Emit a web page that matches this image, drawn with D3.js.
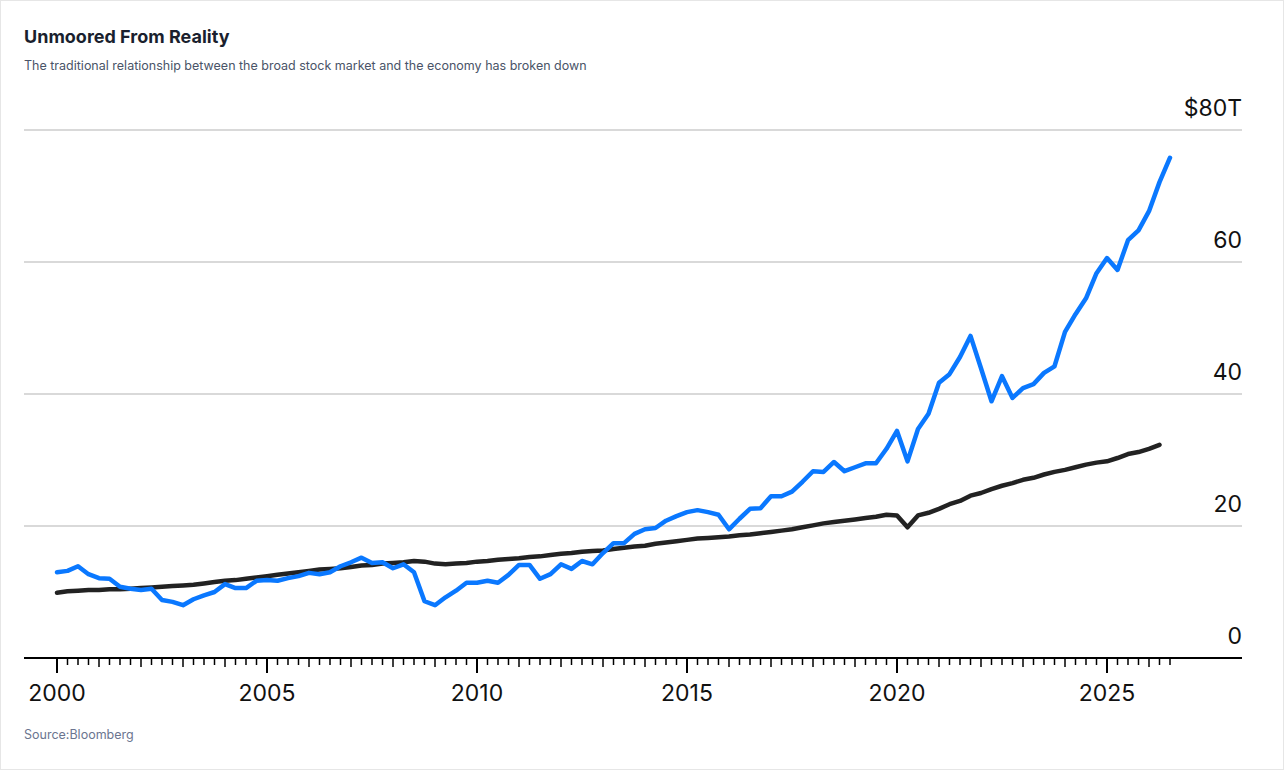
<!DOCTYPE html>
<html>
<head>
<meta charset="utf-8">
<script src="https://cdn.jsdelivr.net/npm/d3@7"></script>
<style>
  body { margin: 0; background: #fff; font-family: "Inter", "Helvetica Neue", Arial, sans-serif; }
  .frame { position: absolute; left: 0; top: 0; width: 1282px; height: 768px; border: 1px solid #e6e6e6; }
</style>
</head>
<body>
<div class="frame"></div>
<svg width="1284" height="770" style="position:absolute;left:0;top:0"></svg>
<script>
// quarterly, starting Q1 2000
const marketCap = [
  13.0, 13.2, 13.9, 12.7, 12.1, 12.0, 10.8, 10.5, 10.3, 10.5, 8.8, 8.5,
  8.0, 8.9, 9.5, 10.0, 11.2, 10.6, 10.6, 11.7, 11.8, 11.7, 12.1, 12.4,
  12.9, 12.7, 13.0, 13.9, 14.5, 15.2, 14.4, 14.5, 13.6, 14.2, 13.0, 8.6,
  8.0, 9.2, 10.2, 11.4, 11.4, 11.7, 11.4, 12.6, 14.1, 14.1, 12.0, 12.7,
  14.2, 13.5, 14.7, 14.2, 15.9, 17.4, 17.4, 18.8, 19.5, 19.7, 20.8, 21.5,
  22.1, 22.4, 22.1, 21.7, 19.5, 21.1, 22.6, 22.7, 24.5, 24.5, 25.2, 26.7,
  28.3, 28.2, 29.7, 28.3, 28.9, 29.5, 29.5, 31.7, 34.4, 29.8, 34.7, 37.0,
  41.7, 43.0, 45.6, 48.8, 43.9, 38.9, 42.7, 39.4, 40.9, 41.5, 43.2, 44.2,
  49.4, 52.1, 54.5, 58.3, 60.6, 58.8, 63.3, 64.8, 67.7, 72.1, 75.8
];
const gdp = [
  9.9, 10.1, 10.2, 10.3, 10.3, 10.4, 10.4, 10.5, 10.6, 10.7, 10.8, 10.9,
  11.0, 11.1, 11.3, 11.5, 11.7, 11.8, 12.0, 12.2, 12.4, 12.6, 12.8, 13.0,
  13.2, 13.4, 13.5, 13.6, 13.8, 14.0, 14.1, 14.3, 14.4, 14.5, 14.7, 14.6,
  14.3, 14.2, 14.3, 14.4, 14.6, 14.7, 14.9, 15.0, 15.1, 15.3, 15.4, 15.6,
  15.8, 15.9, 16.1, 16.2, 16.3, 16.5, 16.7, 16.9, 17.0, 17.3, 17.5, 17.7,
  17.9, 18.1, 18.2, 18.3, 18.4, 18.6, 18.7, 18.9, 19.1, 19.3, 19.5, 19.8,
  20.1, 20.4, 20.6, 20.8, 21.0, 21.2, 21.4, 21.7, 21.6, 19.8, 21.6, 22.0,
  22.6, 23.3, 23.8, 24.6, 25.0, 25.6, 26.1, 26.5, 27.0, 27.3, 27.8, 28.2,
  28.5, 28.9, 29.3, 29.6, 29.8, 30.3, 30.9, 31.2, 31.7, 32.3
];
const yTicks = [0, 20, 40, 60, 80];
const yearLabels = [2000, 2005, 2010, 2015, 2020, 2025];

const svg = d3.select("svg");
const x = d3.scaleLinear().domain([2000, 2025]).range([57, 1107]);
const y = d3.scaleLinear().domain([0, 80]).range([658, 130]);
const t = i => 2000 + i * 0.25;

svg.append("text").attr("x", 24).attr("y", 43)
  .attr("font-size", 18).attr("font-weight", 700).attr("fill", "#1a1f2e")
  .text("Unmoored From Reality");
svg.append("text").attr("x", 24).attr("y", 70)
  .attr("font-size", 12.5).attr("fill", "#4a5468")
  .text("The traditional relationship between the broad stock market and the economy has broken down");
svg.append("text").attr("x", 24).attr("y", 739)
  .attr("font-size", 12.5).attr("fill", "#6b7590")
  .text("Source:Bloomberg");

// grid + y labels
yTicks.forEach(v => {
  if (v > 0) {
    svg.append("line").attr("x1", 24).attr("x2", 1242)
      .attr("y1", y(v)).attr("y2", y(v))
      .attr("stroke", "#cccccc").attr("stroke-width", 1.5);
  }
  svg.append("text").attr("x", 1242).attr("y", y(v) - 14)
    .attr("text-anchor", "end").attr("font-size", 23).attr("fill", "#111")
    .text(v === 80 ? "$80T" : v);
});

// x axis
svg.append("line").attr("x1", 24).attr("x2", 1242)
  .attr("y1", 658).attr("y2", 658).attr("stroke", "#000").attr("stroke-width", 2);
const quarters = d3.range(0, 107).map(t);
svg.selectAll("line.tick").data(quarters).enter().append("line")
  .attr("class", "tick")
  .attr("x1", d => x(d)).attr("x2", d => x(d))
  .attr("y1", 658)
  .attr("y2", d => (Math.abs(d % 5) < 1e-9) ? 673 : (Math.abs(d % 1) < 1e-9 ? 667 : 665))
  .attr("stroke", "#000").attr("stroke-width", d => (Math.abs(d % 5) < 1e-9) ? 2 : 1.5);
svg.selectAll("text.year").data(yearLabels).enter().append("text")
  .attr("class", "year")
  .attr("x", d => x(d)).attr("y", 701)
  .attr("text-anchor", "middle").attr("font-size", 23).attr("fill", "#111")
  .text(d => d);

const line = d3.line().x((d, i) => x(t(i))).y(d => y(d));
svg.append("path").datum(gdp).attr("d", line)
  .attr("fill", "none").attr("stroke", "#222").attr("stroke-width", 4.5)
  .attr("stroke-linejoin", "round").attr("stroke-linecap", "round");
svg.append("path").datum(marketCap).attr("d", line)
  .attr("fill", "none").attr("stroke", "#0a78ff").attr("stroke-width", 4.5)
  .attr("stroke-linejoin", "round").attr("stroke-linecap", "round");
</script>
</body>
</html>
